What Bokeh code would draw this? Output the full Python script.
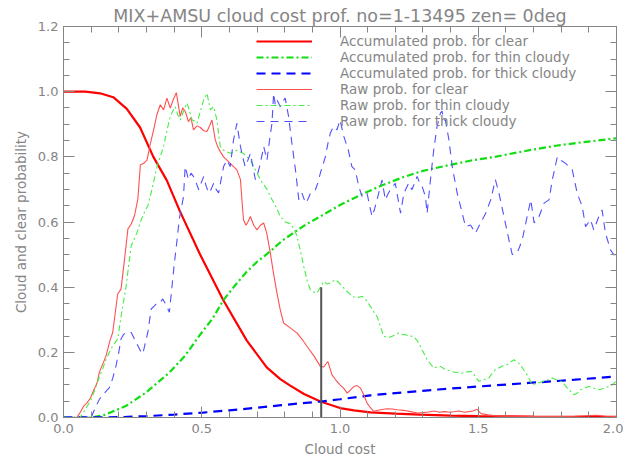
from bokeh.plotting import figure
from bokeh.models import (Range1d, LinearAxis, FixedTicker, CustomJSTickFormatter,
                          PrintfTickFormatter, Legend, LegendItem)
from bokeh.embed import file_html
from bokeh.resources import INLINE

# ---------------- data ----------------
title_text = "MIX+AMSU cloud cost prof. no=1-13495 zen= 0deg"
x_label = "Cloud cost"
y_label = "Cloud and clear probability"
legend_labels = ["Accumulated prob. for clear", "Accumulated prob. for thin cloudy",
                 "Accumulated prob. for thick cloudy", "Raw prob. for clear",
                 "Raw prob. for thin cloudy", "Raw prob. for thick cloudy"]

x_major_ticks = [0.0, 0.5, 1.0, 1.5, 2.0]
x_minor_ticks = [0.1, 0.2, 0.3, 0.4, 0.6, 0.7, 0.8, 0.9, 1.1, 1.2, 1.3, 1.4,
                 1.6, 1.7, 1.8, 1.9]
y_major_ticks = [0.0, 0.2, 0.4, 0.6, 0.8, 1.0, 1.2]
y_minor_ticks = [0.05, 0.1, 0.15, 0.25, 0.3, 0.35, 0.45, 0.5, 0.55, 0.65, 0.7, 0.75,
                 0.85, 0.9, 0.95, 1.05, 1.1, 1.15]

acc_clear_x = [0.0, 0.08, 0.132, 0.18, 0.229, 0.277, 0.325, 0.374, 0.42, 0.494, 0.578,
               0.663, 0.735, 0.784, 0.82, 0.87, 0.929, 1.0, 1.05, 1.11, 1.2, 1.29, 1.4,
               1.5, 1.7, 2.0]
acc_clear_y = [1.0, 1.0, 0.995, 0.983, 0.947, 0.89, 0.80, 0.727, 0.635, 0.50, 0.36,
               0.236, 0.154, 0.118, 0.098, 0.072, 0.049, 0.029, 0.022, 0.016, 0.012,
               0.009, 0.006, 0.004, 0.003, 0.002]

acc_thin_x = [0.0, 0.1, 0.15, 0.227, 0.299, 0.383, 0.44, 0.492, 0.54, 0.579, 0.62, 0.66,
              0.70, 0.748, 0.79, 0.839, 0.88, 0.929, 1.0, 1.074, 1.15, 1.23, 1.3, 1.38,
              1.47, 1.56, 1.67, 1.78, 1.88, 2.0]
acc_thin_y = [0.0, 0.0, 0.008, 0.036, 0.077, 0.138, 0.19, 0.252, 0.305, 0.361, 0.405,
              0.445, 0.478, 0.51, 0.542, 0.571, 0.594, 0.617, 0.652, 0.683, 0.712, 0.738,
              0.757, 0.772, 0.788, 0.80, 0.818, 0.834, 0.845, 0.857]

acc_thick_x = [0.0, 0.2, 0.299, 0.4, 0.504, 0.6, 0.7, 0.78, 0.85, 0.929, 1.0, 1.11, 1.2,
               1.355, 1.5, 1.683, 1.85, 2.0]
acc_thick_y = [0.0, 0.001, 0.004, 0.009, 0.015, 0.022, 0.03, 0.037, 0.043, 0.049, 0.056,
               0.068, 0.075, 0.086, 0.095, 0.106, 0.116, 0.126]

raw_clear_x = [0.0, 0.048, 0.06, 0.072, 0.085, 0.097, 0.11, 0.121, 0.13, 0.145, 0.154,
               0.169, 0.178, 0.196, 0.208, 0.22, 0.233, 0.245, 0.257, 0.269, 0.278, 0.29,
               0.302, 0.314, 0.326, 0.338, 0.35, 0.362, 0.374, 0.386, 0.397, 0.408, 0.422,
               0.431, 0.44, 0.452, 0.461, 0.47, 0.483, 0.495, 0.507, 0.519, 0.528, 0.537,
               0.549, 0.558, 0.567, 0.579, 0.591, 0.603, 0.615, 0.627, 0.64, 0.646, 0.651,
               0.66, 0.667, 0.676, 0.688, 0.70, 0.712, 0.724, 0.735, 0.748, 0.76, 0.772,
               0.784, 0.796, 0.82, 0.845, 0.863, 0.881, 0.905, 0.929, 0.941, 0.956, 0.971,
               0.985, 1.0, 1.013, 1.026, 1.038, 1.05, 1.062, 1.074, 1.086, 1.098, 1.11,
               1.122, 1.146, 1.17, 1.19, 1.207, 1.23, 1.255, 1.28, 1.3, 1.32, 1.34, 1.36,
               1.376, 1.4, 1.43, 1.45, 1.466, 1.48, 1.496, 1.51, 1.535, 1.562, 1.6, 1.7,
               1.8, 1.85, 1.9, 1.93, 1.96, 2.0]
raw_clear_y = [0.0, 0.0, 0.015, 0.034, 0.045, 0.059, 0.085, 0.105, 0.14, 0.17, 0.19,
               0.239, 0.261, 0.379, 0.394, 0.48, 0.579, 0.594, 0.62, 0.671, 0.775, 0.78,
               0.79, 0.84, 0.883, 0.93, 0.96, 0.944, 0.98, 0.95, 0.975, 0.997, 0.924,
               0.95, 0.94, 0.908, 0.92, 0.883, 0.895, 0.89, 0.88, 0.878, 0.895, 0.913,
               0.852, 0.83, 0.816, 0.80, 0.79, 0.78, 0.77, 0.76, 0.73, 0.66, 0.607,
               0.59, 0.60, 0.617, 0.59, 0.576, 0.59, 0.597, 0.566, 0.505, 0.44, 0.382,
               0.33, 0.29, 0.275, 0.259, 0.24, 0.218, 0.19, 0.157, 0.155, 0.172, 0.131,
               0.115, 0.10, 0.09, 0.075, 0.085, 0.095, 0.098, 0.09, 0.07, 0.044, 0.03,
               0.019, 0.024, 0.027, 0.026, 0.024, 0.022, 0.018, 0.014, 0.015, 0.017, 0.02,
               0.016, 0.018, 0.016, 0.02, 0.016, 0.018, 0.02, 0.025, 0.012, 0.008, 0.005,
               0.004, 0.003, 0.003, 0.004, 0.006, 0.007, 0.004, 0.003]

raw_thin_x = [0.0, 0.06, 0.072, 0.085, 0.097, 0.109, 0.118, 0.13, 0.142, 0.154, 0.166,
              0.178, 0.196, 0.21, 0.227, 0.236, 0.245, 0.257, 0.269, 0.278, 0.29, 0.305,
              0.32, 0.338, 0.35, 0.362, 0.374, 0.386, 0.395, 0.404, 0.413, 0.422, 0.434,
              0.447, 0.456, 0.465, 0.474, 0.483, 0.495, 0.507, 0.519, 0.531, 0.543, 0.555,
              0.561, 0.567, 0.579, 0.591, 0.603, 0.615, 0.627, 0.639, 0.651, 0.663, 0.676,
              0.694, 0.712, 0.724, 0.736, 0.748, 0.76, 0.772, 0.784, 0.802, 0.82, 0.833,
              0.845, 0.857, 0.869, 0.881, 0.893, 0.905, 0.917, 0.929, 0.941, 0.953, 0.965,
              0.983, 0.995, 1.007, 1.022, 1.038, 1.05, 1.062, 1.08, 1.095, 1.11, 1.122,
              1.134, 1.146, 1.158, 1.175, 1.188, 1.2, 1.212, 1.224, 1.236, 1.25, 1.266,
              1.28, 1.291, 1.303, 1.315, 1.327, 1.339, 1.351, 1.363, 1.381, 1.405, 1.42,
              1.44, 1.46, 1.477, 1.49, 1.502, 1.52, 1.538, 1.55, 1.562, 1.586, 1.604,
              1.617, 1.629, 1.641, 1.653, 1.665, 1.677, 1.695, 1.713, 1.731, 1.75, 1.767,
              1.785, 1.803, 1.815, 1.828, 1.846, 1.858, 1.87, 1.885, 1.9, 1.918, 1.937,
              1.955, 1.973, 1.985, 1.997]
raw_thin_y = [0.0, 0.0, 0.015, 0.034, 0.05, 0.075, 0.097, 0.125, 0.15, 0.179, 0.2, 0.22,
              0.241, 0.32, 0.405, 0.47, 0.528, 0.55, 0.574, 0.60, 0.625, 0.65, 0.70, 0.77,
              0.80, 0.832, 0.88, 0.924, 0.94, 0.954, 0.93, 0.913, 0.94, 0.965, 0.94,
              0.913, 0.91, 0.903, 0.94, 0.975, 0.995, 0.944, 0.954, 0.913, 0.87, 0.832,
              0.82, 0.815, 0.811, 0.815, 0.82, 0.815, 0.81, 0.80, 0.79, 0.76, 0.73,
              0.715, 0.70, 0.678, 0.66, 0.64, 0.617, 0.60, 0.595, 0.58, 0.556, 0.51,
              0.464, 0.42, 0.392, 0.385, 0.382, 0.40, 0.418, 0.41, 0.413, 0.423, 0.415,
              0.403, 0.39, 0.377, 0.37, 0.367, 0.372, 0.36, 0.341, 0.325, 0.31, 0.28,
              0.249, 0.245, 0.249, 0.255, 0.259, 0.255, 0.254, 0.25, 0.249, 0.235, 0.218,
              0.198, 0.177, 0.165, 0.152, 0.155, 0.157, 0.147, 0.141, 0.138, 0.136, 0.14,
              0.141, 0.125, 0.111, 0.116, 0.121, 0.135, 0.147, 0.157, 0.162, 0.17, 0.177,
              0.17, 0.162, 0.145, 0.131, 0.10, 0.105, 0.11, 0.115, 0.121, 0.115, 0.11,
              0.098, 0.085, 0.07, 0.075, 0.085, 0.09, 0.095, 0.09, 0.085, 0.09, 0.095,
              0.1, 0.11]

raw_thick_x = [0.0, 0.1, 0.115, 0.13, 0.148, 0.166, 0.178, 0.19, 0.2, 0.208, 0.217, 0.227,
               0.236, 0.245, 0.257, 0.269, 0.278, 0.287, 0.296, 0.305, 0.317, 0.326, 0.335,
               0.347, 0.359, 0.371, 0.383, 0.389, 0.4, 0.41, 0.419, 0.434, 0.44, 0.452,
               0.461, 0.47, 0.48, 0.489, 0.498, 0.507, 0.516, 0.525, 0.534, 0.543, 0.552,
               0.561, 0.57, 0.579, 0.591, 0.603, 0.615, 0.627, 0.64, 0.648, 0.657, 0.667,
               0.676, 0.685, 0.694, 0.703, 0.712, 0.724, 0.736, 0.745, 0.754, 0.76, 0.766,
               0.772, 0.784, 0.793, 0.802, 0.814, 0.826, 0.839, 0.851, 0.863, 0.875, 0.884,
               0.893, 0.902, 0.911, 0.92, 0.929, 0.947, 0.956, 0.965, 0.977, 0.989, 1.0,
               1.014, 1.03, 1.043, 1.055, 1.068, 1.08, 1.09, 1.098, 1.107, 1.116, 1.125,
               1.134, 1.143, 1.152, 1.164, 1.173, 1.182, 1.2, 1.21, 1.219, 1.231, 1.248,
               1.26, 1.27, 1.279, 1.288, 1.297, 1.309, 1.315, 1.327, 1.339, 1.351, 1.363,
               1.369, 1.375, 1.381, 1.394, 1.406, 1.424, 1.442, 1.454, 1.472, 1.49, 1.508,
               1.527, 1.545, 1.562, 1.575, 1.593, 1.611, 1.623, 1.641, 1.659, 1.677, 1.69,
               1.702, 1.72, 1.738, 1.756, 1.768, 1.786, 1.798, 1.816, 1.84, 1.858, 1.876,
               1.888, 1.906, 1.918, 1.936, 1.948, 1.96, 1.978, 1.99, 2.0]
raw_thick_y = [0.0, 0.0, 0.03, 0.056, 0.075, 0.092, 0.12, 0.159, 0.2, 0.241, 0.255, 0.261,
               0.26, 0.261, 0.24, 0.22, 0.205, 0.195, 0.23, 0.261, 0.333, 0.34, 0.348,
               0.35, 0.364, 0.345, 0.323, 0.374, 0.466, 0.54, 0.61, 0.678, 0.77, 0.73,
               0.75, 0.74, 0.72, 0.699, 0.72, 0.74, 0.71, 0.689, 0.70, 0.719, 0.70,
               0.689, 0.73, 0.77, 0.79, 0.77, 0.852, 0.903, 0.832, 0.80, 0.77, 0.79,
               0.81, 0.77, 0.73, 0.75, 0.78, 0.832, 0.79, 0.85, 0.903, 0.995, 0.96,
               0.975, 0.954, 0.97, 0.98, 0.924, 0.842, 0.76, 0.668, 0.688, 0.658, 0.67,
               0.688, 0.69, 0.699, 0.72, 0.75, 0.80, 0.84, 0.873, 0.893, 0.883, 0.913,
               0.862, 0.821, 0.77, 0.76, 0.709, 0.678, 0.685, 0.688, 0.65, 0.617, 0.64,
               0.668, 0.70, 0.729, 0.668, 0.685, 0.699, 0.719, 0.67, 0.627, 0.688, 0.719,
               0.699, 0.72, 0.74, 0.72, 0.709, 0.678, 0.627, 0.729, 0.821, 0.893, 0.934,
               0.94, 0.913, 0.913, 0.852, 0.77, 0.688, 0.627, 0.586, 0.591, 0.566, 0.597,
               0.627, 0.668, 0.73, 0.688, 0.617, 0.545, 0.50, 0.505, 0.545, 0.617, 0.668,
               0.597, 0.617, 0.658, 0.668, 0.73, 0.80, 0.79, 0.78, 0.76, 0.688, 0.648,
               0.586, 0.607, 0.576, 0.617, 0.637, 0.566, 0.515, 0.50, 0.50]

# vertical marker where accumulated clear meets accumulated thick cloudy
marker_x = [0.932]
marker_base = [0.0]
marker_top = [0.40]

# ---------------- styling ----------------
GRAY = "#858585"
FONT = "DejaVu Sans"

p = figure(width=623, height=459, output_backend="svg", toolbar_location=None,
           x_range=Range1d(0, 2.0), y_range=Range1d(0, 1.2),
           min_border_left=63, min_border_right=7, min_border_top=26,
           min_border_bottom=41, x_axis_location=None, y_axis_location=None)
p.grid.visible = False
p.outline_line_color = GRAY
p.background_fill_color = "white"
p.border_fill_color = "white"

p.title.text = title_text
p.title.align = "center"
p.title.text_font = FONT
p.title.text_font_size = "17.5px"
p.title.text_font_style = "normal"
p.title.text_color = GRAY
p.title.standoff = 1


def axis(major, minor, labelled, label=None):
    ax = LinearAxis(ticker=FixedTicker(ticks=major, minor_ticks=minor),
                    major_tick_in=11, major_tick_out=0, minor_tick_in=6, minor_tick_out=0,
                    axis_line_color=GRAY, major_tick_line_color=GRAY,
                    minor_tick_line_color=GRAY)
    if labelled:
        ax.formatter = PrintfTickFormatter(format="%.1f")
        ax.major_label_text_font = FONT
        ax.major_label_text_font_size = "13px"
        ax.major_label_text_color = GRAY
        ax.axis_label = label
        ax.axis_label_text_font = FONT
        ax.axis_label_text_font_size = "13.5px"
        ax.axis_label_text_font_style = "normal"
        ax.axis_label_text_color = GRAY
    else:
        ax.formatter = CustomJSTickFormatter(code="return ''")
        ax.major_label_standoff = 0
    return ax


bottom = axis(x_major_ticks, x_minor_ticks, True, x_label)
bottom.major_label_standoff = 6
bottom.axis_label_standoff = 5
left = axis(y_major_ticks, y_minor_ticks, True, y_label)
left.major_label_standoff = 5
left.axis_label_standoff = 6
p.add_layout(bottom, "below")
p.add_layout(left, "left")
p.add_layout(axis(x_major_ticks, x_minor_ticks, False), "above")
p.add_layout(axis(y_major_ticks, y_minor_ticks, False), "right")

r1 = p.line(acc_clear_x, acc_clear_y, line_color="#ff0000", line_width=2.2)
r2 = p.line(acc_thin_x, acc_thin_y, line_color="#11dd11", line_width=2.2,
            line_dash="7 3 2 3")
r3 = p.line(acc_thick_x, acc_thick_y, line_color="#0000ff", line_width=2.2,
            line_dash="9 6")
r4 = p.line(raw_clear_x, raw_clear_y, line_color="#ff5050", line_width=1.1)
r5 = p.line(raw_thin_x, raw_thin_y, line_color="#44ee44", line_width=1.1,
            line_dash="6 3 2 3")
r6 = p.line(raw_thick_x, raw_thick_y, line_color="#5050ff", line_width=1.1,
            line_dash="8 6")
p.segment(x0=marker_x, y0=marker_base, x1=marker_x, y1=marker_top,
          line_color="#555555", line_width=2)

legend = Legend(items=[LegendItem(label=lab, renderers=[r])
                       for lab, r in zip(legend_labels, [r1, r2, r3, r4, r5, r6])],
                location=(193, 288), padding=0, margin=0, spacing=0,
                glyph_width=56, glyph_height=16, label_height=16, label_standoff=28,
                label_text_font=FONT, label_text_font_size="13.5px",
                label_text_color=GRAY, border_line_alpha=0, background_fill_alpha=0)
p.add_layout(legend)

open("out.html", "w").write(file_html(p, INLINE))
